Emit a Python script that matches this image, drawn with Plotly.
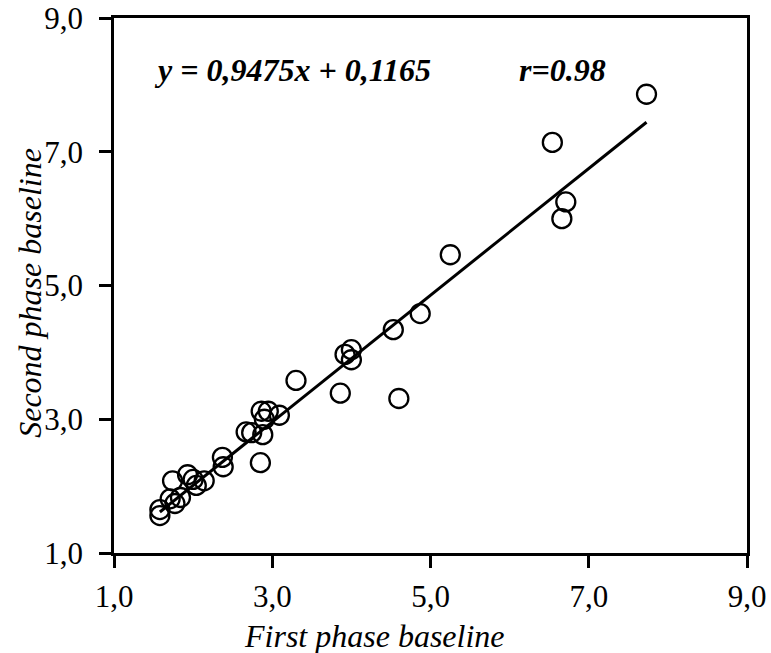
import plotly.graph_objects as go

first_phase = [1.58, 1.58, 1.71, 1.77, 1.84, 1.74, 1.93, 2.00, 2.04, 2.14,
               2.37, 2.38, 2.67, 2.74, 2.86, 2.95, 3.09, 2.88, 2.90, 2.85,
               3.30, 3.86, 4.60, 3.92, 4.00, 4.00, 4.53, 4.87, 5.25, 6.54,
               6.71, 6.66, 7.73]
second_phase = [1.56, 1.65, 1.81, 1.74, 1.83, 2.08, 2.17, 2.10, 2.01, 2.08,
                2.43, 2.29, 2.81, 2.80, 3.12, 3.12, 3.06, 2.77, 3.00, 2.35,
                3.58, 3.39, 3.31, 3.97, 4.04, 3.89, 4.34, 4.58, 5.46, 7.14,
                6.25, 6.00, 7.86]
slope = 0.9475
intercept = 0.1165
tick_vals = [1, 3, 5, 7, 9]
tick_text = ["1,0", "3,0", "5,0", "7,0", "9,0"]

FONT = "Liberation Serif"

fig = go.Figure()
xmin, xmax = min(first_phase), max(first_phase)
fig.add_trace(go.Scatter(
    x=[xmin, xmax], y=[slope * xmin + intercept, slope * xmax + intercept],
    mode="lines", line=dict(color="black", width=3), showlegend=False))
fig.add_trace(go.Scatter(
    x=first_phase, y=second_phase, mode="markers",
    marker=dict(symbol="circle-open", size=19, color="black", line=dict(width=2.3)),
    showlegend=False))

axis_common = dict(
    range=[1, 9], tickvals=tick_vals, ticktext=tick_text,
    showgrid=False, zeroline=False, showline=True, linecolor="black", linewidth=2.5,
    mirror=True, ticks="outside", ticklen=12, tickwidth=2.5, tickcolor="black",
    tickfont=dict(family=FONT, size=31, color="black"), automargin=False,
    ticklabeloverflow="allow",
)
fig.update_xaxes(**axis_common, ticklabelstandoff=2)
fig.update_yaxes(**axis_common, ticklabelstandoff=10)

fig.add_annotation(x=0.060, y=0.903, xref="paper", yref="paper", xanchor="left", yanchor="middle",
                   text="<b><i>y = 0,9475x + 0,1165</i></b>", showarrow=False,
                   font=dict(family=FONT, size=32, color="black"))
fig.add_annotation(x=0.637, y=0.903, xref="paper", yref="paper", xanchor="left", yanchor="middle",
                   text="<b><i>r=0.98</i></b>", showarrow=False,
                   font=dict(family=FONT, size=32, color="black"))
fig.add_annotation(x=0.412, y=-0.155, xref="paper", yref="paper", xanchor="center", yanchor="middle",
                   text="<i>First phase baseline</i>", showarrow=False,
                   font=dict(family=FONT, size=32, color="black"))
fig.add_annotation(x=-0.133, y=0.486, xref="paper", yref="paper", xanchor="center", yanchor="middle",
                   text="<i>Second phase baseline</i>", showarrow=False, textangle=-90,
                   font=dict(family=FONT, size=32, color="black"))

fig.update_layout(
    width=771, height=653,
    margin=dict(l=114, r=24, t=18, b=100),
    plot_bgcolor="white", paper_bgcolor="white",
)
fig.write_html("out.html")
